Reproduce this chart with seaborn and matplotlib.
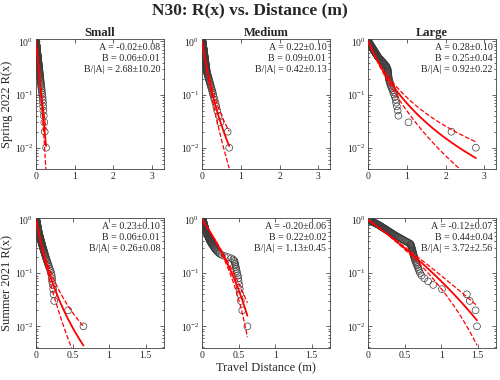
import numpy as np
import matplotlib
matplotlib.use('Agg')
import matplotlib.pyplot as plt
import seaborn as sns
from matplotlib.ticker import LogLocator, NullFormatter, FixedLocator

# Row / column labels
seasons = ['Spring 2022', 'Summer 2021']
sizes = ['Small', 'Medium', 'Large']

# Sorted travel distances (m), one array per panel
dist_spring_small = [
    0.000, 0.001, 0.001, 0.002, 0.003, 0.004, 0.004, 0.005, 0.006, 0.007,
    0.007, 0.008, 0.009, 0.010, 0.011, 0.011, 0.012, 0.013, 0.014, 0.015,
    0.016, 0.016, 0.017, 0.018, 0.019, 0.020, 0.021, 0.022, 0.023, 0.024,
    0.025, 0.026, 0.027, 0.028, 0.029, 0.030, 0.031, 0.032, 0.033, 0.034,
    0.036, 0.037, 0.038, 0.039, 0.040, 0.042, 0.043, 0.044, 0.045, 0.047,
    0.048, 0.050, 0.051, 0.053, 0.054, 0.056, 0.057, 0.059, 0.060, 0.062,
    0.064, 0.065, 0.067, 0.069, 0.071, 0.073, 0.075, 0.077, 0.079, 0.081,
    0.084, 0.086, 0.088, 0.091, 0.094, 0.096, 0.099, 0.102, 0.105, 0.108,
    0.112, 0.115, 0.119, 0.123, 0.127, 0.132, 0.137, 0.142, 0.147, 0.153,
    0.160, 0.170, 0.175, 0.180, 0.185, 0.190, 0.200, 0.215, 0.225, 0.260]
dist_spring_medium = [
    0.010, 0.011, 0.012, 0.013, 0.013, 0.014, 0.015, 0.016, 0.017, 0.018,
    0.019, 0.020, 0.021, 0.022, 0.023, 0.024, 0.025, 0.026, 0.027, 0.028,
    0.029, 0.030, 0.031, 0.032, 0.033, 0.034, 0.035, 0.036, 0.038, 0.039,
    0.040, 0.041, 0.042, 0.044, 0.045, 0.046, 0.047, 0.049, 0.050, 0.051,
    0.053, 0.054, 0.056, 0.057, 0.059, 0.060, 0.062, 0.063, 0.065, 0.066,
    0.068, 0.070, 0.072, 0.073, 0.075, 0.077, 0.079, 0.081, 0.083, 0.085,
    0.087, 0.089, 0.091, 0.093, 0.096, 0.098, 0.100, 0.103, 0.106, 0.108,
    0.111, 0.114, 0.117, 0.120, 0.126, 0.132, 0.139, 0.146, 0.154, 0.162,
    0.170, 0.178, 0.188, 0.197, 0.208, 0.219, 0.231, 0.243, 0.257, 0.272,
    0.285, 0.300, 0.320, 0.345, 0.365, 0.390, 0.430, 0.470, 0.660, 0.700]
dist_spring_large = [
    0.000, 0.004, 0.008, 0.011, 0.015, 0.019, 0.023, 0.027, 0.031, 0.036,
    0.040, 0.044, 0.048, 0.052, 0.057, 0.061, 0.066, 0.070, 0.075, 0.079,
    0.084, 0.089, 0.094, 0.098, 0.103, 0.108, 0.113, 0.119, 0.124, 0.129,
    0.134, 0.140, 0.145, 0.151, 0.156, 0.162, 0.168, 0.174, 0.180, 0.186,
    0.192, 0.199, 0.205, 0.212, 0.218, 0.225, 0.232, 0.239, 0.246, 0.254,
    0.261, 0.272, 0.284, 0.295, 0.307, 0.319, 0.332, 0.344, 0.357, 0.370,
    0.384, 0.398, 0.412, 0.427, 0.442, 0.454, 0.463, 0.472, 0.482, 0.492,
    0.500, 0.503, 0.505, 0.508, 0.511, 0.514, 0.517, 0.520, 0.523, 0.526,
    0.530, 0.538, 0.547, 0.557, 0.567, 0.577, 0.593, 0.611, 0.630, 0.649,
    0.670, 0.690, 0.710, 0.720, 0.740, 0.760, 0.780, 1.040, 2.150, 2.780]
dist_summer_small = [
    0.005, 0.006, 0.006, 0.007, 0.007, 0.008, 0.009, 0.009, 0.010, 0.011,
    0.011, 0.012, 0.013, 0.013, 0.014, 0.015, 0.016, 0.016, 0.017, 0.018,
    0.019, 0.019, 0.020, 0.021, 0.022, 0.022, 0.023, 0.024, 0.025, 0.026,
    0.027, 0.028, 0.028, 0.029, 0.030, 0.031, 0.032, 0.033, 0.034, 0.035,
    0.036, 0.037, 0.038, 0.039, 0.040, 0.042, 0.044, 0.045, 0.047, 0.048,
    0.050, 0.052, 0.054, 0.056, 0.057, 0.059, 0.061, 0.063, 0.065, 0.067,
    0.070, 0.072, 0.074, 0.076, 0.079, 0.081, 0.084, 0.086, 0.089, 0.092,
    0.095, 0.098, 0.102, 0.105, 0.109, 0.112, 0.116, 0.120, 0.125, 0.129,
    0.134, 0.139, 0.144, 0.150, 0.157, 0.164, 0.172, 0.180, 0.189, 0.199,
    0.210, 0.215, 0.220, 0.220, 0.230, 0.235, 0.240, 0.250, 0.440, 0.650]
dist_summer_medium = [
    0.010, 0.011, 0.012, 0.013, 0.014, 0.014, 0.015, 0.016, 0.017, 0.018,
    0.019, 0.020, 0.021, 0.022, 0.023, 0.024, 0.025, 0.026, 0.027, 0.028,
    0.029, 0.030, 0.032, 0.033, 0.034, 0.035, 0.036, 0.037, 0.039, 0.040,
    0.041, 0.042, 0.044, 0.045, 0.046, 0.047, 0.049, 0.050, 0.052, 0.054,
    0.057, 0.059, 0.061, 0.063, 0.066, 0.068, 0.070, 0.073, 0.075, 0.078,
    0.080, 0.083, 0.086, 0.088, 0.091, 0.094, 0.097, 0.100, 0.103, 0.106,
    0.109, 0.114, 0.119, 0.125, 0.130, 0.136, 0.142, 0.148, 0.154, 0.161,
    0.167, 0.174, 0.182, 0.193, 0.205, 0.216, 0.229, 0.242, 0.266, 0.309,
    0.355, 0.401, 0.425, 0.442, 0.446, 0.451, 0.456, 0.461, 0.467, 0.473,
    0.480, 0.490, 0.495, 0.500, 0.510, 0.515, 0.520, 0.530, 0.550, 0.620]
dist_summer_large = [
    0.010, 0.016, 0.022, 0.028, 0.035, 0.041, 0.048, 0.054, 0.061, 0.067,
    0.074, 0.081, 0.088, 0.095, 0.102, 0.109, 0.116, 0.123, 0.131, 0.138,
    0.146, 0.153, 0.159, 0.166, 0.172, 0.179, 0.185, 0.192, 0.199, 0.206,
    0.213, 0.220, 0.228, 0.235, 0.243, 0.250, 0.258, 0.266, 0.274, 0.282,
    0.290, 0.298, 0.307, 0.316, 0.325, 0.334, 0.343, 0.352, 0.362, 0.371,
    0.381, 0.393, 0.405, 0.417, 0.430, 0.442, 0.455, 0.469, 0.482, 0.496,
    0.510, 0.525, 0.540, 0.556, 0.572, 0.581, 0.584, 0.586, 0.589, 0.592,
    0.595, 0.598, 0.601, 0.604, 0.607, 0.610, 0.614, 0.618, 0.622, 0.626,
    0.630, 0.634, 0.639, 0.645, 0.653, 0.661, 0.669, 0.678, 0.688, 0.698,
    0.710, 0.730, 0.770, 0.820, 0.890, 1.010, 1.350, 1.390, 1.470, 1.490]

distances = [[dist_spring_small, dist_spring_medium, dist_spring_large],
             [dist_summer_small, dist_summer_medium, dist_summer_large]]

# Fitted parameters (generalized Pareto: A = shape, B = scale)
fit_A = [[-0.02, 0.22, 0.28], [0.23, -0.20, -0.12]]
fit_A_err = [[0.08, 0.10, 0.10], [0.10, 0.06, 0.07]]
fit_B = [[0.06, 0.09, 0.25], [0.06, 0.22, 0.44]]
fit_B_err = [[0.01, 0.01, 0.04], [0.01, 0.02, 0.04]]
ratio = [[2.68, 0.42, 0.92], [0.26, 1.13, 3.72]]
ratio_err = [[10.20, 0.13, 0.22], [0.08, 0.45, 2.56]]

x_limits = [3.3, 1.75]
x_ticks = [[0, 1, 2, 3], [0, 0.5, 1, 1.5]]
x_ticklabels = [['0', '1', '2', '3'], ['0', '0.5', '1', '1.5']]


def gpd_survival(x, a, b):
    z = np.clip(1 + a * x / b, 1e-12, None)
    return z ** (-1.0 / a)


sns.set_style("ticks")
plt.rcParams['font.family'] = ['Liberation Serif', 'DejaVu Serif']
plt.rcParams['mathtext.fontset'] = 'stix'
plt.rcParams['axes.edgecolor'] = '#404040'
plt.rcParams['axes.linewidth'] = 0.6
plt.rcParams['xtick.color'] = '#262626'
plt.rcParams['ytick.color'] = '#262626'

fig, axes = plt.subplots(2, 3, figsize=(5, 3.8), dpi=100)
plt.subplots_adjust(left=0.072, right=0.992, top=0.897, bottom=0.084,
                    wspace=0.30, hspace=0.37)

for r in range(2):
    for c in range(3):
        ax = axes[r, c]
        x = np.array(distances[r][c])
        n = len(x)
        surv = np.arange(n, 0, -1) / n

        sns.scatterplot(x=x, y=surv, ax=ax, marker='o', s=24,
                        facecolor='none', edgecolor='#3c3c3c', linewidth=0.5,
                        zorder=2)

        xs = np.linspace(0, x.max(), 200)
        a, b, da = fit_A[r][c], fit_B[r][c], fit_A_err[r][c]
        sns.lineplot(x=xs, y=gpd_survival(xs, a, b), ax=ax, color='red',
                     lw=1.3, estimator=None, sort=False, zorder=3)
        for aa in (a + da, a - da):
            sns.lineplot(x=xs, y=gpd_survival(xs, aa, b), ax=ax, color='red',
                         lw=0.9, ls='--', estimator=None, sort=False, zorder=3)

        ax.set_yscale('log')
        ax.set_ylim(0.0039, 1.1)
        ax.set_xlim(0, x_limits[r])
        ax.set_xticks(x_ticks[r])
        ax.set_xticklabels(x_ticklabels[r])
        ax.yaxis.set_major_locator(FixedLocator([1e-2, 1e-1, 1e0]))
        ax.yaxis.set_minor_locator(LogLocator(base=10, subs=np.arange(2, 10)))
        ax.yaxis.set_minor_formatter(NullFormatter())
        ax.tick_params(which='both', direction='in', top=True, right=True,
                       width=0.5, labelsize=7, pad=2)
        ax.tick_params(which='major', length=3)
        ax.tick_params(which='minor', length=1.5)
        ax.set_xlabel('')
        ax.set_ylabel('')

        lines = [f'A = {a:.2f}\u00b1{da:.2f}',
                 f'B = {b:.2f}\u00b1{fit_B_err[r][c]:.2f}',
                 f'B/|A| = {ratio[r][c]:.2f}\u00b1{ratio_err[r][c]:.2f}']
        for i, txt in enumerate(lines):
            ax.text(0.972, 0.933 - 0.084 * i, txt, transform=ax.transAxes,
                    ha='right', va='center', fontsize=7.2, color='#262626')

        if r == 0:
            ax.set_title(sizes[c], fontsize=9, fontweight='bold', pad=2)
        if c == 0:
            ax.set_ylabel(seasons[r] + ' R(x)', fontsize=9, labelpad=1)

axes[1, 1].set_xlabel('Travel Distance (m)', fontsize=9, labelpad=1)
fig.suptitle('N30: R(x) vs. Distance (m)', fontsize=12.5, fontweight='bold',
             y=0.995)

plt.savefig('out.png', dpi=100)
